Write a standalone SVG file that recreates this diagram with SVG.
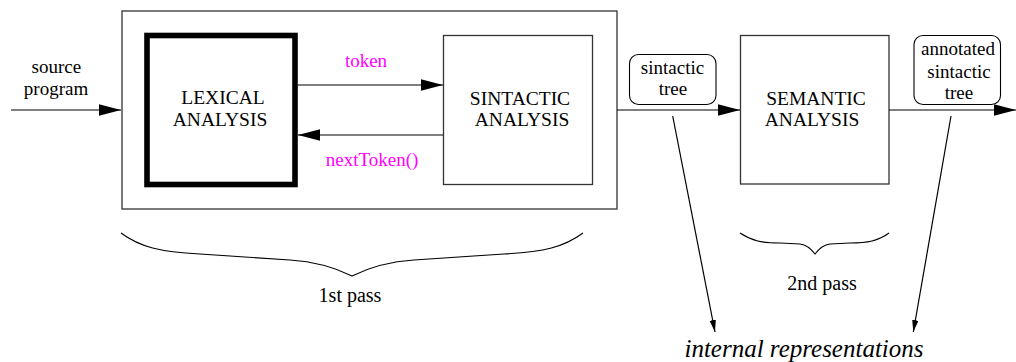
<svg xmlns="http://www.w3.org/2000/svg" width="1016" height="362" viewBox="0 0 1016 362" font-family="'Liberation Serif', 'Times New Roman', serif">
<style>
.big{font-size:19.5px;text-anchor:middle}
.lbl{font-size:19px;text-anchor:middle}
.mag{font-size:19px;text-anchor:middle;fill:#ff00ff}
.box{fill:#fff;stroke:#333;stroke-width:1.3}
.rbox{fill:#fff;stroke:#000;stroke-width:1.1}
.ln{fill:none;stroke:#000;stroke-width:1.2}
.brace{fill:none;stroke:#000;stroke-width:1.1}
</style>
<defs>
<marker id="ah" markerUnits="userSpaceOnUse" markerWidth="23" markerHeight="12" refX="22" refY="5.7" orient="auto">
<path d="M0,0 L22,5.7 L0,11.4 z" fill="#000"/>
</marker>
<marker id="as" markerUnits="userSpaceOnUse" markerWidth="13" markerHeight="7" refX="12" refY="3.2" orient="auto">
<path d="M0,0 L12,3.2 L0,6.4 z" fill="#000"/>
</marker>
</defs>
<rect width="1016" height="362" fill="#fff"/>

<g id="pass1-box">
<rect class="box" x="122" y="11" width="495" height="198"/>
</g>

<g id="lexical">
<rect x="147" y="35.5" width="148" height="149" fill="#fff" stroke="#000" stroke-width="5.6"/>
<text class="big" x="223" y="103.5">LEXICAL</text>
<text class="big" x="220" y="126">ANALYSIS</text>
</g>

<g id="sintactic">
<rect class="box" x="443.5" y="35.5" width="149" height="149"/>
<text class="big" x="520" y="104.5">SINTACTIC</text>
<text class="big" x="522" y="126">ANALYSIS</text>
</g>

<g id="semantic">
<rect class="box" x="740.5" y="35.5" width="148.5" height="148.5"/>
<text class="big" x="816" y="104.5">SEMANTIC</text>
<text class="big" x="812" y="126">ANALYSIS</text>
</g>

<g id="sintactic-tree">
<rect class="rbox" x="629.5" y="54.5" width="86.5" height="50" rx="9"/>
<text class="lbl" x="672.5" y="74">sintactic</text>
<text class="lbl" x="673" y="95">tree</text>
</g>

<g id="annotated-tree">
<rect class="rbox" x="914" y="35.5" width="86.5" height="69" rx="9"/>
<text class="lbl" x="958" y="54.5">annotated</text>
<text class="lbl" x="959" y="77.5">sintactic</text>
<text class="lbl" x="959" y="98.5">tree</text>
</g>

<g id="labels">
<text class="lbl" x="56.3" y="72.7">source</text>
<text class="lbl" x="56" y="95">program</text>
<text class="mag" x="366" y="66.7">token</text>
<text class="mag" x="372" y="166">nextToken()</text>
<text class="lbl" x="350" y="301.5" style="font-size:20px">1st pass</text>
<text class="lbl" x="822" y="290" style="font-size:20px">2nd pass</text>
<text x="804" y="356.5" style="font-size:25px;font-style:italic;text-anchor:middle">internal representations</text>
</g>

<g id="connectors">
<line class="ln" x1="11" y1="110" x2="121" y2="110" marker-end="url(#ah)"/>
<line class="ln" x1="297.5" y1="85" x2="443" y2="85" marker-end="url(#ah)"/>
<line class="ln" x1="443" y1="135" x2="298" y2="135" marker-end="url(#ah)" stroke="#333"/>
<line class="ln" x1="617" y1="110" x2="740" y2="110" marker-end="url(#ah)"/>
<line class="ln" x1="889" y1="110" x2="1016" y2="110" marker-end="url(#ah)"/>
<line class="ln" x1="672.7" y1="116" x2="715" y2="332" marker-end="url(#as)" stroke-width="1"/>
<line class="ln" x1="951" y1="116" x2="913.3" y2="332" marker-end="url(#as)" stroke-width="1"/>
</g>

<g id="braces">
<path class="brace" d="M121,233 C140,247 160,252 200,254 L290,260 C320,262 340,270 352,276 C364,270 384,262 414,260 L504,254 C544,252 564,247 583,233"/>
<path class="brace" d="M740,233 C752,241 762,243 780,243 L800,244 C808,245 812,250 815,254 C818,250 822,245 830,244 L850,243 C868,243 878,241 889,233"/>
</g>
</svg>
